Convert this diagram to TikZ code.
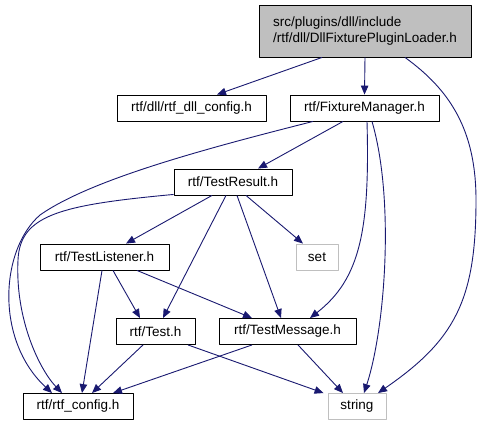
\documentclass[tikz,border=0pt]{standalone}
\usepackage{fontspec}
\setmainfont{Liberation Sans}
\usetikzlibrary{arrows.meta}
\definecolor{edgeblue}{HTML}{191970}
\definecolor{boxgrey}{HTML}{BFBFBF}
\begin{document}
\begin{tikzpicture}[x=1pt, y=-1pt, font=\fontsize{13.5}{16}\selectfont, line join=round, >={Triangle[length=9pt,width=7.5pt]}]
	\tikzset{
	box/.style={draw=black, line width=0.9pt, minimum height=26pt, inner sep=0pt},
	ext/.style={box, draw=boxgrey},
	cur/.style={box, fill=boxgrey, align=left, minimum height=52pt, minimum width=212pt},
	inc/.style={->, edgeblue, line width=0.9pt}
	}
	\useasboundingbox (0,0) rectangle (482,425);
	\node[cur] (loader) at (365,31) {src/plugins/dll/include\\/rtf/dll/DllFixturePluginLoader.h};
	\node[box, minimum width=149pt] (dllcfg) at (191.5,108) {rtf/dll/rtf\_dll\_config.h};
	\node[box, minimum width=149pt] (fixmgr) at (364.5,108) {rtf/FixtureManager.h};
	\node[box, minimum width=118pt] (testres) at (233,182) {rtf/TestResult.h};
	\node[box, minimum width=129pt] (testlis) at (104.5,257) {rtf/TestListener.h};
	\node[ext, minimum width=42pt] (set) at (317,257) {set};
	\node[box, minimum width=79pt] (test) at (155.5,331.5) {rtf/Test.h};
	\node[box, minimum width=137pt] (testmsg) at (287.5,331.5) {rtf/TestMessage.h};
	\node[box, minimum width=110pt] (rtfcfg) at (78,406.5) {rtf/rtf\_config.h};
	\node[ext, minimum width=58pt] (string) at (357,406.5) {string};
	\draw[inc] ([xshift=-43pt]loader.south) -- ([xshift=25.5pt]dllcfg.north);
	\draw[inc] (loader.south) -- (fixmgr.north);
	\draw[inc] ([xshift=40pt]loader.south) .. controls (450,90) and (476,130) .. (476,200) .. controls (476,300) and (455,340) .. ([xshift=21pt]string.north);
	\draw[inc] ([xshift=-51.5pt]fixmgr.south) .. controls (200,150) and (90,180) .. (40,215) .. controls (0,250) and (-5,340) .. ([xshift=-26pt]rtfcfg.north);
	\draw[inc] ([xshift=-21.5pt]fixmgr.south) -- ([xshift=25pt]testres.north);
	\draw[inc] ([xshift=2.5pt]fixmgr.south) .. controls +(3,109) and +(50,-39) .. ([xshift=22.5pt]testmsg.north);
	\draw[inc] ([xshift=7.5pt]fixmgr.south) .. controls +(23,79) and +(21,-64) .. ([xshift=7pt]string.north);
	\draw[inc] ([yshift=1pt]testres.south west) .. controls (60,205) and (20,215) .. (18,260) .. controls (15,320) and (40,370) .. ([xshift=-16pt]rtfcfg.north);
	\draw[inc] ([xshift=-21pt]testres.south) -- ([xshift=21.5pt]testlis.north);
	\draw[inc] ([xshift=-7pt]testres.south) -- ([xshift=7.5pt]test.north);
	\draw[inc] ([xshift=4pt]testres.south) -- ([xshift=-6.5pt]testmsg.north);
	\draw[inc] ([xshift=13pt]testres.south) -- ([xshift=-14pt]set.north);
	\draw[inc] ([xshift=8.5pt]testlis.south) -- ([xshift=-15.5pt]test.north);
	\draw[inc] ([xshift=32.5pt]testlis.south) -- ([xshift=-35.5pt]testmsg.north);
	\draw[inc] ([xshift=-2.5pt]testlis.south) -- ([xshift=4pt]rtfcfg.north);
	\draw[inc] ([xshift=-12.5pt]test.south) -- ([xshift=14pt]rtfcfg.north);
	\draw[inc] ([xshift=32.5pt]test.south) -- ([xshift=-4pt]string.north west);
	\draw[inc] ([xshift=-35.5pt]testmsg.south) -- ([xshift=35pt]rtfcfg.north);
	\draw[inc] ([xshift=10.5pt]testmsg.south) -- ([xshift=-14pt]string.north);
\end{tikzpicture}
\end{document}
